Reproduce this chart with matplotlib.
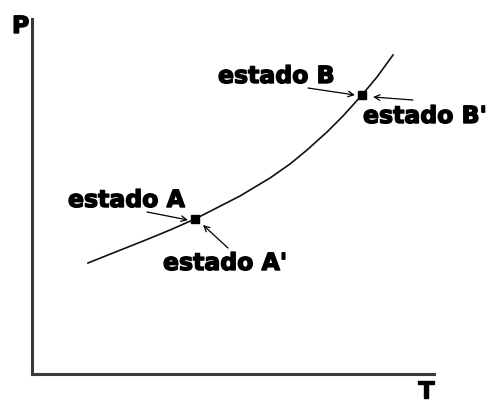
"""P-T diagram: saturation curve with states A, A', B, B'."""
import matplotlib
matplotlib.use("Agg")
import matplotlib.pyplot as plt
import matplotlib.patheffects as pe

# curve (arbitrary T / P units)
curve_T = [56, 81, 115, 138, 163, 208, 238, 258, 275, 295, 311, 330, 345, 361]
curve_P = [111, 121, 134.5, 144, 155, 178, 196, 210, 224, 242, 258, 279, 297, 319]

# states sitting on the curve
state_T = [163, 330]
state_P = [155, 279]

axis_labels = ["T", "P"]


def main():
    fig = plt.figure(figsize=(5.01, 4.05), dpi=100)
    ax = fig.add_axes([32 / 501, 31 / 405, 402 / 501, 355 / 405])
    ax.set_xlim(0, 402)
    ax.set_ylim(0, 355)

    # only the left and bottom axes lines
    for side in ["top", "right"]:
        ax.spines[side].set_visible(False)
    for side in ["left", "bottom"]:
        ax.spines[side].set_color("#3a3a3a")
        ax.spines[side].set_linewidth(2.2)
    ax.set_xticks([])
    ax.set_yticks([])

    ax.plot(curve_T, curve_P, color="#111111", lw=1.2)
    ax.plot(state_T, state_P, "s", color="black", ms=5.5)

    # heavy, wide lettering like the original
    font = dict(fontsize=17, fontweight="heavy", family="DejaVu Sans",
                clip_on=False,
                path_effects=[pe.withStroke(linewidth=1.0, foreground="black")])
    ax.text(-20, 341, axis_labels[1], ha="left", va="baseline", **font)
    ax.text(386, -24, axis_labels[0], ha="left", va="baseline", **font)

    arrow = dict(arrowstyle="->", color="black", lw=0.9, shrinkA=0, shrinkB=0)
    ax.text(186, 291, "estado B", ha="left", va="baseline", **font)
    ax.annotate("", xy=(323, 279), xytext=(276, 286), arrowprops=arrow)
    ax.text(331, 251, "estado B'", ha="left", va="baseline", **font)
    ax.annotate("", xy=(341, 277), xytext=(381, 274), arrowprops=arrow)
    ax.text(36, 167, "estado A", ha="left", va="baseline", **font)
    ax.annotate("", xy=(156, 154), xytext=(115, 162), arrowprops=arrow)
    ax.text(131, 104, "estado A'", ha="left", va="baseline", **font)
    ax.annotate("", xy=(171, 149), xytext=(196, 126), arrowprops=arrow)

    fig.savefig("out.png", dpi=100)
    plt.close(fig)


if __name__ == "__main__":
    main()
